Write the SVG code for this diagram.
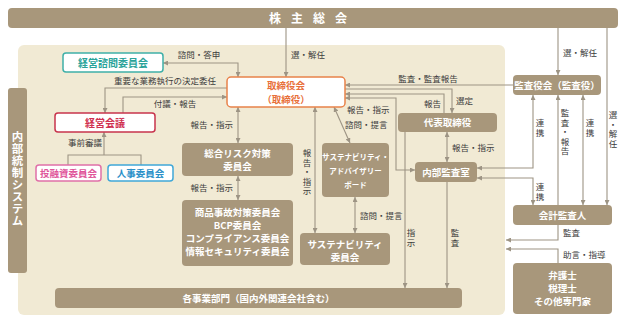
<svg xmlns="http://www.w3.org/2000/svg" width="627" height="320" viewBox="0 0 627 320">
<style>
text{font-family:"Noto Sans CJK JP","Noto Sans",sans-serif}
.br{fill:#a8977b}
.wt{fill:#fff;font-size:9.5px;font-weight:bold;text-anchor:middle}
.lb{fill:#3c3c3c;font-size:8.5px}
.lm{text-anchor:middle}
.le{text-anchor:end}
.vt{fill:#3c3c3c;font-size:8.5px;writing-mode:vertical-rl;letter-spacing:1px}
.cn{fill:none;stroke:#9d9484;stroke-width:1.1}
.ma{marker-end:url(#ah)}
.mb{marker-start:url(#ah);marker-end:url(#ah)}
</style>
<defs>
<marker id="ah" viewBox="0 0 6 6" refX="6" refY="3" markerWidth="5" markerHeight="5" markerUnits="userSpaceOnUse" orient="auto-start-reverse">
<path d="M0,0 L6,3 L0,6 z" fill="#9d9484"/>
</marker>
</defs>

<rect x="0" y="0" width="627" height="320" fill="#fff"/>
<rect id="panel" x="18" y="45" width="487" height="270" rx="6" fill="#f1ead4"/>

<g id="connectors">
<path class="cn ma" d="M286,28 V77"/>
<path class="cn mb" d="M163,63 H238 V77"/>
<path class="cn ma" d="M227,88 H105 V113"/>
<path class="cn ma" d="M123,113 V97 H227"/>
<path class="cn ma" d="M104,155 V132"/>
<path class="cn" d="M68,165 V155 H141 V165"/>
<path class="cn mb" d="M238,107 V143"/>
<path class="cn mb" d="M238,176 V200"/>
<path class="cn mb" d="M315,107 V233"/>
<path class="cn mb" d="M334,107 L350,143"/>
<path class="cn mb" d="M355,197 V233"/>
<path class="cn ma" d="M513,85 H345"/>
<path class="cn ma" d="M345,89 H452 V113"/>
<path class="cn ma" d="M444,113 V94 H345"/>
<path class="cn mb" d="M345,98 H396 V170 H415"/>
<path class="cn mb" d="M447,132 V162"/>
<path class="cn mb" d="M533,95 V168 H477"/>
<path class="cn mb" d="M477,178 H533 V205"/>
<path class="cn ma" d="M558,205 V95"/>
<path class="cn mb" d="M583,95 V205"/>
<path class="cn ma" d="M558,28 V75"/>
<path class="cn ma" d="M607,28 V205"/>
<path class="cn ma" d="M558,225 V240 H506"/>
<path class="cn ma" d="M558,263 V249 H506"/>
<path class="cn ma" d="M405,132 V288"/>
<path class="cn ma" d="M447,182 V288"/>
</g>

<g id="labels">
<text class="lb" x="291" y="58">選・解任</text>
<text class="lb lm" x="199" y="58">諮問・答申</text>
<text class="lb lm" x="165" y="84">重要な業務執行の決定委任</text>
<text class="lb lm" x="175" y="107">付議・報告</text>
<text class="lb lm" x="85" y="146">事前審議</text>
<text class="lb le" x="233" y="128">報告・指示</text>
<text class="lb le" x="233" y="191">報告・指示</text>
<text class="vt" x="307" y="149">報告・指示</text>
<text class="lb" x="347" y="113">報告・指示</text>
<text class="lb" x="345" y="128">諮問・提言</text>
<text class="lb" x="360" y="219">諮問・提言</text>
<text class="lb lm" x="428" y="82">監査・監査報告</text>
<text class="lb" x="456" y="104">選定</text>
<text class="lb le" x="441" y="107">報告</text>
<text class="lb" x="452" y="151">報告・指示</text>
<text class="lb" x="563" y="56">選・解任</text>
<text class="vt" x="540" y="119">連携</text>
<text class="vt" x="540" y="183">連携</text>
<text class="vt" x="565" y="109">監査・報告</text>
<text class="vt" x="590" y="119">連携</text>
<text class="vt" x="613" y="111">選・解任</text>
<text class="lb" x="563" y="236">監査</text>
<text class="lb" x="563" y="258">助言・指導</text>
<text class="vt" x="411" y="229">指示</text>
<text class="vt" x="455" y="229">監査</text>
</g>

<g id="shareholders">
<rect class="br" x="8" y="8" width="610" height="20" rx="4"/>
<text x="313" y="22.5" fill="#fff" font-size="12" font-weight="bold" text-anchor="middle" letter-spacing="10">株主総会</text>
</g>

<g id="internal-control">
<rect class="br" x="8" y="88" width="19" height="185" rx="3"/>
<text x="17.5" y="131" fill="#fff" font-size="11.5" font-weight="bold" letter-spacing="0.5" style="writing-mode:vertical-rl">内部統制システム</text>
</g>

<g id="advisory">
<rect x="63" y="53" width="100" height="19" rx="3" fill="#fff" stroke="#3fb0a8" stroke-width="1.5"/>
<text x="113" y="66.5" fill="#2aa39a" font-size="10" font-weight="bold" text-anchor="middle">経営諮問委員会</text>
</g>

<g id="board">
<rect x="227" y="77" width="118" height="30" rx="4" fill="#fff" stroke="#e8824a" stroke-width="1.5"/>
<text x="286" y="88.5" fill="#e8703a" font-size="9.5" font-weight="bold" text-anchor="middle">取締役会</text>
<text x="286" y="102.5" fill="#e8703a" font-size="9.5" font-weight="bold" text-anchor="middle">（取締役）</text>
</g>

<g id="mgmt-meeting">
<rect x="55" y="113" width="100" height="19" rx="3" fill="#fff" stroke="#c8344c" stroke-width="1.5"/>
<text x="105" y="126.5" fill="#d03050" font-size="10" font-weight="bold" text-anchor="middle">経営会議</text>
</g>

<g id="investment">
<rect x="36" y="165" width="65" height="16" rx="3" fill="#fff" stroke="#e070a8" stroke-width="1.5"/>
<text x="68.5" y="176.5" fill="#e0559a" font-size="9.5" font-weight="bold" text-anchor="middle">投融資委員会</text>
</g>

<g id="personnel">
<rect x="108" y="165" width="65" height="16" rx="3" fill="#fff" stroke="#40a8d8" stroke-width="1.5"/>
<text x="140.5" y="176.5" fill="#2a90c8" font-size="9.5" font-weight="bold" text-anchor="middle">人事委員会</text>
</g>

<g id="risk">
<rect class="br" x="182" y="143" width="111" height="33" rx="4"/>
<text class="wt" x="237.5" y="157">総合リスク対策</text>
<text class="wt" x="237.5" y="170">委員会</text>
</g>

<g id="committees">
<rect class="br" x="182" y="200" width="111" height="66" rx="4"/>
<text class="wt" x="237.5" y="216">商品事故対策委員会</text>
<text class="wt" x="237.5" y="229">BCP委員会</text>
<text class="wt" x="237.5" y="242">コンプライアンス委員会</text>
<text class="wt" x="237.5" y="255">情報セキュリティ委員会</text>
</g>

<g id="sust-board">
<rect class="br" x="322" y="143" width="67" height="54" rx="4"/>
<text class="wt" x="355.5" y="160" style="font-size:7.5px">サステナビリティ・</text>
<text class="wt" x="355.5" y="174" style="font-size:7.5px">アドバイザリー</text>
<text class="wt" x="355.5" y="188" style="font-size:7.5px">ボード</text>
</g>

<g id="sust-committee">
<rect class="br" x="300" y="233" width="90" height="32" rx="4"/>
<text class="wt" x="345" y="248">サステナビリティ</text>
<text class="wt" x="345" y="260.5">委員会</text>
</g>

<g id="ceo">
<rect class="br" x="398" y="113" width="99" height="19" rx="4"/>
<text class="wt" x="447.5" y="126">代表取締役</text>
</g>

<g id="internal-audit">
<rect class="br" x="415" y="162" width="62" height="20" rx="4"/>
<text class="wt" x="446" y="175.5">内部監査室</text>
</g>

<g id="auditors">
<rect class="br" x="513" y="75" width="88" height="20" rx="4"/>
<text class="wt" x="557" y="88.5">監査役会（監査役）</text>
</g>

<g id="accounting-auditor">
<rect class="br" x="513" y="205" width="99" height="20" rx="4"/>
<text class="wt" x="562.5" y="218.5">会計監査人</text>
</g>

<g id="experts">
<rect class="br" x="513" y="263" width="99" height="51" rx="4"/>
<text class="wt" x="562.5" y="279">弁護士</text>
<text class="wt" x="562.5" y="292">税理士</text>
<text class="wt" x="562.5" y="305">その他専門家</text>
</g>

<g id="divisions">
<rect class="br" x="55" y="288" width="407" height="20" rx="4"/>
<text class="wt" x="258.5" y="301.5">各事業部門（国内外関連会社含む）</text>
</g>
</svg>
